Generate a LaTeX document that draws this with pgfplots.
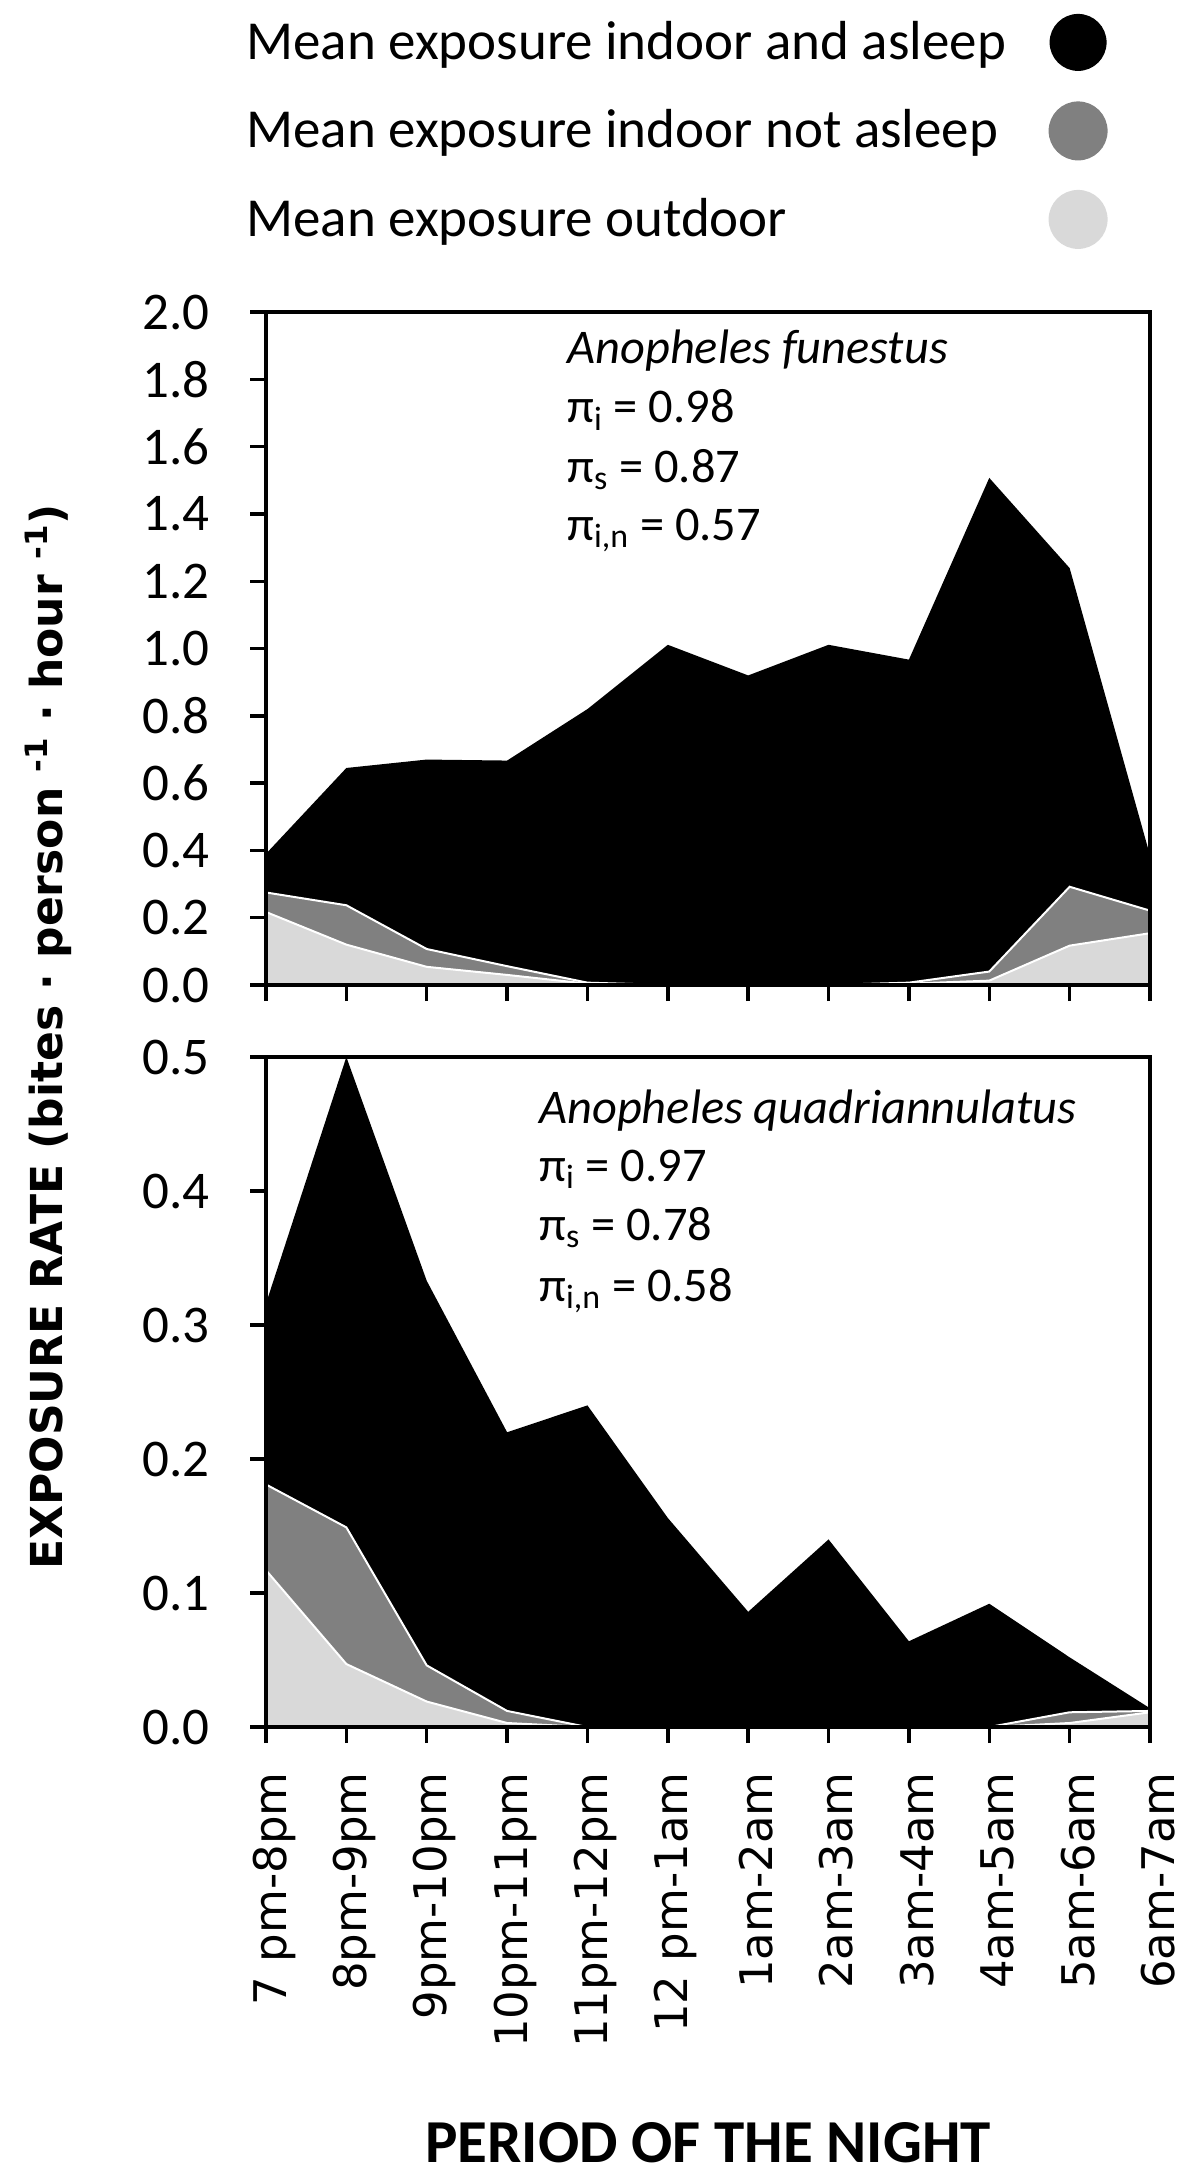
\documentclass[border=0pt]{standalone}
\usepackage{fontspec}
\setmainfont{Carlito}
\newfontfamily\dejavu{DejaVu Sans}
\usepackage{pgfplots}
\pgfplotsset{compat=1.18}

\definecolor{midgray}{HTML}{808080}
\definecolor{lightgray}{HTML}{D9D9D9}

% 1 px of the reference = 0.5pt
\pgfplotsset{
  panel/.style={
    scale only axis,
    width=442pt,
    xmin=0, xmax=11,
    xtick={0,...,11},
    axis on top,
    axis line style={line width=1.7pt},
    tick align=outside,
    xtick pos=bottom, ytick pos=left,
    major tick length=8pt,
    tick style={line width=1.7pt, black},
    /pgf/number format/assume math mode=true,
    /pgf/number format/fixed,
    /pgf/number format/fixed zerofill,
    /pgf/number format/precision=1,
    yticklabel style={font=\fontsize{26.5}{30}\selectfont, inner sep=0pt, xshift=-20pt},
  },
}
\tikzset{note/.style={anchor=base west, inner sep=0pt, font=\fontsize{24.2}{28}\selectfont}}

\begin{document}
\begin{tikzpicture}

% upper panel
\begin{axis}[panel,
  name=top,
  at={(133pt,-156pt)}, anchor=north west,
  height=336.5pt,
  ymin=0, ymax=2,
  ytick={0,0.2,...,2.0},
  xticklabels={},
  legend cell align=left,
  legend plot pos=right,
  legend style={at={(-0.0226,1.4413)}, anchor=north west, draw=none, fill=none,
    inner xsep=0pt, inner ysep=0pt, row sep=17.25pt, column sep=0pt,
    font=\fontsize{27.5}{32}\selectfont,
    nodes={inner sep=0pt, text height=22pt, text depth=5pt}},
]
\addplot[fill=black, draw=none,
  legend image code/.code={\begin{pgfinterruptboundingbox}\fill[black] (35.5pt,0pt) circle[radius=14.25pt];\end{pgfinterruptboundingbox}\path (0pt,0pt);}]
  coordinates {(0,0.39) (1,0.645) (2,0.67) (3,0.667) (4,0.82) (5,1.011) (6,0.92) (7,1.011) (8,0.967) (9,1.507) (10,1.239) (11,0.385)} \closedcycle;
\addplot[fill=midgray, draw=white, line width=1pt,
  legend image code/.code={\begin{pgfinterruptboundingbox}\fill[midgray] (35.5pt,0pt) circle[radius=14.25pt];\end{pgfinterruptboundingbox}\path (0pt,0pt);}]
  coordinates {(0,0.275) (1,0.237) (2,0.107) (3,0.056) (4,0.007) (5,0) (6,0) (7,0) (8,0.007) (9,0.04) (10,0.292) (11,0.221)} \closedcycle;
\addplot[fill=lightgray, draw=white, line width=1pt,
  legend image code/.code={\begin{pgfinterruptboundingbox}\fill[lightgray] (35.5pt,0pt) circle[radius=14.25pt];\end{pgfinterruptboundingbox}\path (0pt,0pt);}]
  coordinates {(0,0.217) (1,0.12) (2,0.054) (3,0.03) (4,0.004) (5,0) (6,0) (7,0) (8,0.004) (9,0.013) (10,0.117) (11,0.154)} \closedcycle;
\legend{Mean exposure indoor and asleep, Mean exposure indoor not asleep, Mean exposure outdoor}

\node[note, font=\itshape\fontsize{24.2}{28}\selectfont] at (rel axis cs:0.3405,0.9242) {Anopheles funestus};
\node[note] at (rel axis cs:0.3405,0.8351) {π\textsubscript{i} = 0.98};
\node[note] at (rel axis cs:0.3405,0.7474) {π\textsubscript{s} = 0.87};
\node[note] at (rel axis cs:0.3405,0.6612) {π\textsubscript{i,n} = 0.57};
\end{axis}

% lower panel
\begin{axis}[panel,
  name=bot,
  at={(133pt,-528.5pt)}, anchor=north west,
  height=335pt,
  ymin=0, ymax=0.5,
  ytick={0,0.1,...,0.5},
  xticklabels={7 pm-8pm, 8pm-9pm, 9pm-10pm, 10pm-11pm, 11pm-12pm, 12 pm-1am,
    1am-2am, 2am-3am, 3am-4am, 4am-5am, 5am-6am, 6am-7am},
  xticklabel style={font=\dejavu\fontsize{22.5}{27}\selectfont, inner sep=0pt,
    yshift=-14.5pt, xshift=4pt, rotate=90, anchor=east},
]
\addplot[fill=black, draw=none]
  coordinates {(0,0.316) (1,0.5) (2,0.333) (3,0.22) (4,0.24) (5,0.156) (6,0.086) (7,0.14) (8,0.064) (9,0.092) (10,0.052) (11,0.014)} \closedcycle;
\addplot[fill=midgray, draw=white, line width=1pt]
  coordinates {(0,0.181) (1,0.149) (2,0.046) (3,0.012) (4,0) (5,0) (6,0) (7,0) (8,0) (9,0) (10,0.011) (11,0.012)} \closedcycle;
\addplot[fill=lightgray, draw=white, line width=1pt]
  coordinates {(0,0.117) (1,0.047) (2,0.019) (3,0.003) (4,0) (5,0) (6,0) (7,0) (8,0) (9,0) (10,0.003) (11,0.011)} \closedcycle;

\node[note, font=\itshape\fontsize{24.2}{28}\selectfont] at (rel axis cs:0.3088,0.9015) {Anopheles quadriannulatus};
\node[note] at (rel axis cs:0.3088,0.8149) {π\textsubscript{i} = 0.97};
\node[note] at (rel axis cs:0.3088,0.7269) {π\textsubscript{s} = 0.78};
\node[note] at (rel axis cs:0.3088,0.6358) {π\textsubscript{i,n} = 0.58};
\end{axis}

\node[rotate=90, font=\dejavu\bfseries\fontsize{22}{26}\selectfont] at (24pt,-518.5pt)
  {EXPOSURE RATE (bites · person \textsuperscript{-1} · hour \textsuperscript{-1})};
\node[font=\bfseries\fontsize{30.5}{36}\selectfont] at (354pt,-1071.5pt) {PERIOD OF THE NIGHT};

\pgfresetboundingbox
\path[use as bounding box] (0pt,0pt) rectangle (600pt,-1087.5pt);
\end{tikzpicture}
\end{document}
